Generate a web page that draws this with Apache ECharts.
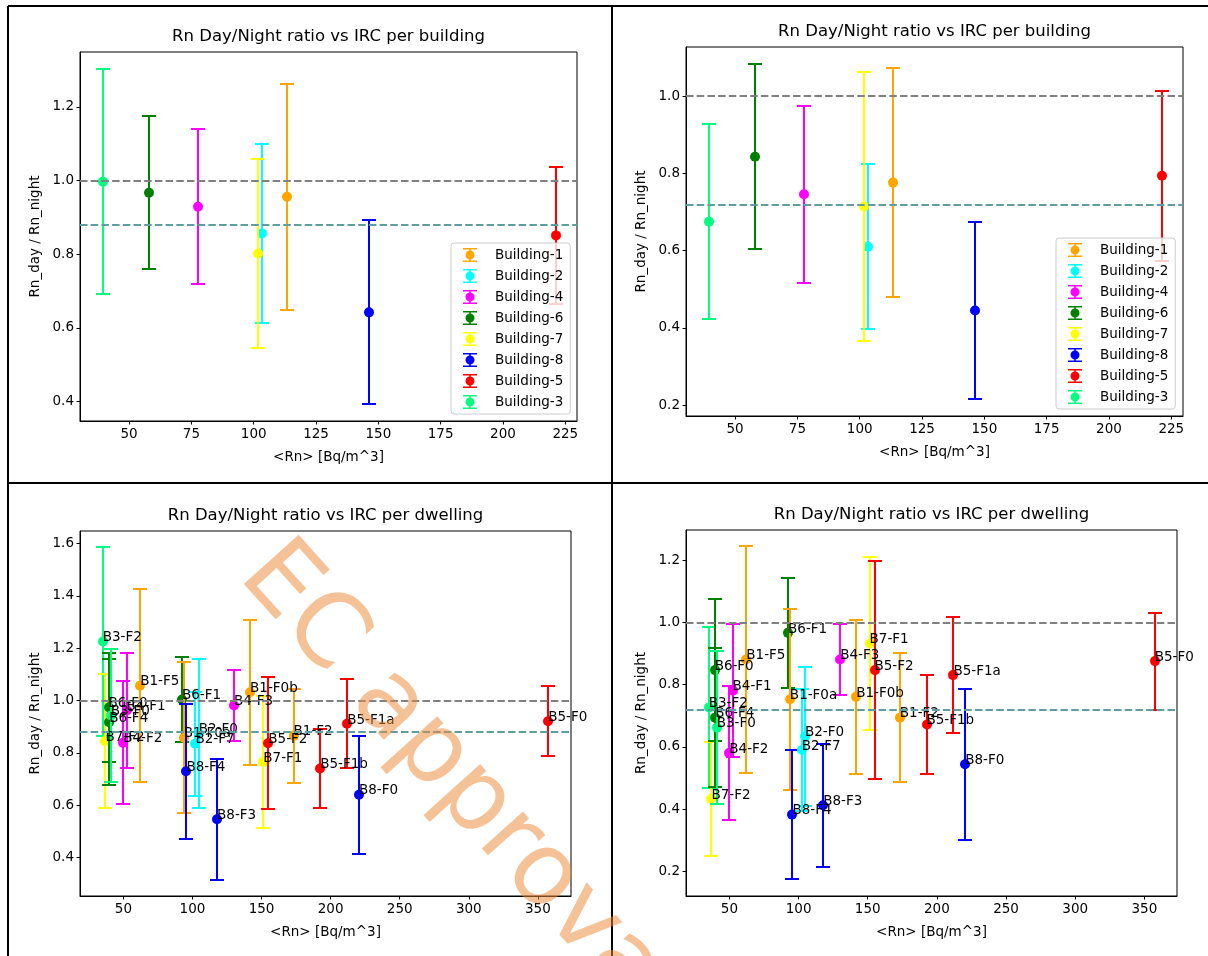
<!DOCTYPE html>
<html><head><meta charset="utf-8">
<script src="https://cdn.jsdelivr.net/npm/echarts@6/dist/echarts.min.js"></script>
<style>html,body{margin:0;padding:0;background:#fff}#c{width:1208px;height:956px}</style>
</head><body><div id="c"></div>
<script>
// ---------------- data ----------------
const buildingNames = ['Building-1','Building-2','Building-4','Building-6','Building-7','Building-8','Building-5','Building-3'];
const buildingRn = [113.4, 103.3, 77.5, 58.0, 101.6, 146.1, 221.1, 39.5];
const buildingRatioL = [0.956, 0.856, 0.929, 0.967, 0.802, 0.642, 0.851, 0.997];
const buildingErrL = [0.307, 0.244, 0.210, 0.207, 0.256, 0.250, 0.187, 0.305];
const buildingRatioR = [0.776, 0.610, 0.746, 0.843, 0.714, 0.445, 0.794, 0.675];
const buildingErrR = [0.297, 0.213, 0.229, 0.239, 0.348, 0.230, 0.220, 0.253];

const dwellingNames = ['B3-F2','B7-F2','B6-F0','B6-F4','B3-F0','B4-F2','B4-F1','B1-F5','B6-F1','B1-F0a','B8-F4','B2-F7','B2-F0','B8-F3','B4-F3','B1-F0b','B7-F1','B5-F2','B1-F2','B5-F1b','B5-F1a','B8-F0','B5-F0'];
const dwellingRn = [35.0, 37.0, 39.3, 39.7, 40.8, 49.9, 52.3, 62.2, 92.4, 93.7, 95.6, 102.2, 104.6, 117.8, 130.1, 141.7, 151.3, 154.9, 173.2, 192.5, 212.0, 220.5, 357.5];
const dwellingRatioL = [1.226, 0.845, 0.974, 0.917, 0.943, 0.839, 0.963, 1.057, 1.004, 0.858, 0.730, 0.835, 0.874, 0.546, 0.981, 1.032, 0.765, 0.837, 0.866, 0.740, 0.911, 0.640, 0.921];
const dwellingErrL = [0.362, 0.256, 0.207, 0.241, 0.254, 0.236, 0.219, 0.368, 0.162, 0.289, 0.258, 0.198, 0.284, 0.232, 0.135, 0.277, 0.251, 0.253, 0.180, 0.151, 0.170, 0.225, 0.133];
const dwellingRatioR = [0.727, 0.432, 0.847, 0.694, 0.662, 0.580, 0.781, 0.881, 0.967, 0.753, 0.382, 0.590, 0.633, 0.412, 0.881, 0.761, 0.933, 0.847, 0.694, 0.672, 0.831, 0.544, 0.876];
const dwellingErrR = [0.259, 0.183, 0.228, 0.223, 0.245, 0.216, 0.214, 0.364, 0.178, 0.291, 0.208, 0.195, 0.224, 0.198, 0.115, 0.248, 0.278, 0.351, 0.207, 0.160, 0.186, 0.243, 0.156];

const refLinesTL = [1.0, 0.876];
const refLinesTR = [1.0, 0.716];
const refLinesBL = [1.0, 0.877];
const refLinesBR = [1.0, 0.718];

const xTicksBuilding = [50, 75, 100, 125, 150, 175, 200, 225];
const xTicksDwelling = [50, 100, 150, 200, 250, 300, 350];
const yTicksTL = [0.4, 0.6, 0.8, 1.0, 1.2];
const yTicksTR = [0.2, 0.4, 0.6, 0.8, 1.0];
const yTicksBL = [0.4, 0.6, 0.8, 1.0, 1.2, 1.4, 1.6];
const yTicksBR = [0.2, 0.4, 0.6, 0.8, 1.0, 1.2];

const titleBuilding = 'Rn Day/Night ratio vs IRC per building';
const titleDwelling = 'Rn Day/Night ratio vs IRC per dwelling';
const xName = '<Rn> [Bq/m^3]';
const yName = 'Rn_day / Rn_night';
const watermark = 'EC approval';

// ---------------- styling ----------------
const FONT = 'DejaVu Sans';
const buildingColor = {B1:'#FFA500', B2:'#00FFFF', B3:'#00FF7F', B4:'#FF00FF', B5:'#FF0000', B6:'#008000', B7:'#FFFF00', B8:'#0000FF'};
function colorOfBuilding(name){ return buildingColor['B' + name.split('-')[1]]; }
function colorOfDwelling(name){ return buildingColor[name.split('-')[0]]; }

const ERR_ICON = 'path://M0,0H14V1.6H0Z M0,12.4H14V14H0Z M6.2,0H7.8V14H6.2Z M11.5,7A4.5,4.5 0 1 1 2.5,7A4.5,4.5 0 1 1 11.5,7Z';

const grids = [
  {left: 80, top: 52, width: 497, height: 369},
  {left: 686, top: 47, width: 497, height: 369},
  {left: 80, top: 531, width: 491, height: 365},
  {left: 686, top: 530, width: 491, height: 366}
];
const xRanges = [[30.3, 229.7], [30.3, 229.7], [18.6, 374], [18.6, 373.6]];
const yRanges = [[0.347, 1.349], [0.172, 1.127], [0.253, 1.648], [0.12, 1.298]];

function errRender(params, api) {
  const x = api.value(0), y = api.value(1), e = api.value(2);
  const p = api.coord([x, y]), t = api.coord([x, y + e]), b = api.coord([x, y - e]);
  const col = api.visual('color');
  const cap = 7;
  const px = Math.round(p[0]);
  const ty = Math.round(t[1]), by = Math.round(b[1]);
  return {type: 'group', children: [
    {type: 'line', shape: {x1: px, y1: ty, x2: px, y2: by}, style: {stroke: col, lineWidth: 2}},
    {type: 'line', shape: {x1: px - cap, y1: ty, x2: px + cap, y2: ty}, style: {stroke: col, lineWidth: 2}},
    {type: 'line', shape: {x1: px - cap, y1: by, x2: px + cap, y2: by}, style: {stroke: col, lineWidth: 2}},
    {type: 'circle', shape: {cx: px, cy: p[1], r: 5}, style: {fill: col}}
  ]};
}

function labelRender(params, api) {
  const p = api.coord([api.value(0), api.value(1)]);
  return {type: 'text', x: p[0], y: p[1] + 3.2, style: {
    text: dwellingNames[params.dataIndex], fill: '#000', font: '13.5px "' + FONT + '"',
    textAlign: 'left', textVerticalAlign: 'bottom'}};
}

function refMarkLine(vals) {
  return {silent: true, symbol: ['none', 'none'], animation: false,
    label: {show: false},
    lineStyle: {type: [7.5, 3.2], width: 1.8},
    data: [
      {yAxis: vals[0], lineStyle: {color: '#808080', type: [7.5, 3.2], width: 1.8}},
      {yAxis: vals[1], lineStyle: {color: '#5F9EA0', type: [7.5, 3.2], width: 1.8}}
    ]};
}

function xAxisCfg(gi, ticks) {
  return {type: 'value', gridIndex: gi, min: xRanges[gi][0], max: xRanges[gi][1],
    name: xName, nameLocation: 'middle', nameGap: 29,
    nameTextStyle: {fontFamily: FONT, fontSize: 13.5, color: '#000'},
    axisLine: {show: true, onZero: false, lineStyle: {color: '#000', width: 1}},
    axisTick: {show: true, inside: false, length: 3.5, lineStyle: {color: '#000', width: 1}, customValues: ticks},
    axisLabel: {show: true, margin: 6, fontFamily: FONT, fontSize: 13.5, color: '#000', customValues: ticks,
      formatter: v => String(v)},
    splitLine: {show: false}};
}
function yAxisCfg(gi, ticks) {
  return {type: 'value', gridIndex: gi, min: yRanges[gi][0], max: yRanges[gi][1],
    name: yName, nameLocation: 'middle', nameGap: 38, nameRotate: 90,
    nameTextStyle: {fontFamily: FONT, fontSize: 13.5, color: '#000'},
    axisLine: {show: true, onZero: false, lineStyle: {color: '#000', width: 1}},
    axisTick: {show: true, inside: false, length: 3.5, lineStyle: {color: '#000', width: 1}, customValues: ticks},
    axisLabel: {show: true, margin: 6, fontFamily: FONT, fontSize: 13.5, color: '#000', customValues: ticks,
      formatter: v => v.toFixed(1)},
    splitLine: {show: false}};
}

function legendCfg(left, top) {
  return {left: left, top: top, orient: 'vertical', selectedMode: false,
    itemWidth: 14, itemHeight: 14, itemGap: 7, padding: [5, 7, 5, 12],
    borderColor: '#cccccc', borderWidth: 1, borderRadius: 3, backgroundColor: 'rgba(255,255,255,0.8)',
    textStyle: {fontFamily: FONT, fontSize: 13.5, color: '#000', padding: [0, 0, 0, 13]},
    data: buildingNames.map(n => ({name: n, icon: ERR_ICON}))};
}

const series = [];
// top panels: per building
[[0, buildingRatioL, buildingErrL, refLinesTL], [1, buildingRatioR, buildingErrR, refLinesTR]].forEach(([gi, ratio, err, refs]) => {
  buildingNames.forEach((n, i) => {
    const s = {type: 'custom', name: n, xAxisIndex: gi, yAxisIndex: gi, z: 2,
      itemStyle: {color: colorOfBuilding(n)}, renderItem: errRender, animation: false,
      data: [[buildingRn[i], ratio[i], err[i]]]};
    if (i === 0) s.markLine = refMarkLine(refs);
    series.push(s);
  });
});
// bottom panels: per dwelling
[[2, dwellingRatioL, dwellingErrL, refLinesBL], [3, dwellingRatioR, dwellingErrR, refLinesBR]].forEach(([gi, ratio, err, refs]) => {
  dwellingNames.forEach((n, i) => {
    const s = {type: 'custom', name: n + (gi === 2 ? ' (A)' : ' (B)'), xAxisIndex: gi, yAxisIndex: gi, z: 2,
      itemStyle: {color: colorOfDwelling(n)}, renderItem: errRender, animation: false,
      data: [[dwellingRn[i], ratio[i], err[i]]]};
    if (i === 0) s.markLine = refMarkLine(refs);
    series.push(s);
  });
  series.push({type: 'custom', name: 'labels' + gi, xAxisIndex: gi, yAxisIndex: gi, z: 3,
    renderItem: labelRender, animation: false,
    data: dwellingNames.map((n, i) => [dwellingRn[i], ratio[i]])});
});

const graphics = [
  {type: 'line', shape: {x1: 8, y1: 6, x2: 1208, y2: 6}, style: {stroke: '#000', lineWidth: 2}},
  {type: 'line', shape: {x1: 8, y1: 6, x2: 8, y2: 956}, style: {stroke: '#000', lineWidth: 2}},
  {type: 'line', shape: {x1: 612, y1: 6, x2: 612, y2: 956}, style: {stroke: '#000', lineWidth: 2}},
  {type: 'line', shape: {x1: 8, y1: 483, x2: 1208, y2: 483}, style: {stroke: '#000', lineWidth: 2}},
  {type: 'text', x: 328.5, y: 37, style: {text: titleBuilding, font: '16.5px "' + FONT + '"', fill: '#000', textAlign: 'center', textVerticalAlign: 'middle'}},
  {type: 'text', x: 934.5, y: 32, style: {text: titleBuilding, font: '16.5px "' + FONT + '"', fill: '#000', textAlign: 'center', textVerticalAlign: 'middle'}},
  {type: 'text', x: 325.5, y: 516, style: {text: titleDwelling, font: '16.5px "' + FONT + '"', fill: '#000', textAlign: 'center', textVerticalAlign: 'middle'}},
  {type: 'text', x: 931.5, y: 515, style: {text: titleDwelling, font: '16.5px "' + FONT + '"', fill: '#000', textAlign: 'center', textVerticalAlign: 'middle'}},
  {type: 'text', x: 237, y: 577, rotation: -48 * Math.PI / 180, z: 100,
    style: {text: watermark, font: '101px "' + FONT + '"', fill: 'rgba(236,138,58,0.52)', textAlign: 'left', textVerticalAlign: 'bottom', y: 24}}
];

const chart = echarts.init(document.getElementById('c'), null, {renderer: 'canvas'});
chart.setOption({
  animation: false,
  backgroundColor: '#fff',
  textStyle: {fontFamily: FONT},
  grid: grids.map(g => Object.assign({show: true, borderColor: '#000', borderWidth: 1, backgroundColor: 'transparent', containLabel: false, outerBoundsMode: 'none'}, g)),
  xAxis: [xAxisCfg(0, xTicksBuilding), xAxisCfg(1, xTicksBuilding), xAxisCfg(2, xTicksDwelling), xAxisCfg(3, xTicksDwelling)],
  yAxis: [yAxisCfg(0, yTicksTL), yAxisCfg(1, yTicksTR), yAxisCfg(2, yTicksBL), yAxisCfg(3, yTicksBR)],
  legend: [legendCfg(451, 243), legendCfg(1056, 238)],
  series: series,
  graphic: graphics
});
</script></body></html>
